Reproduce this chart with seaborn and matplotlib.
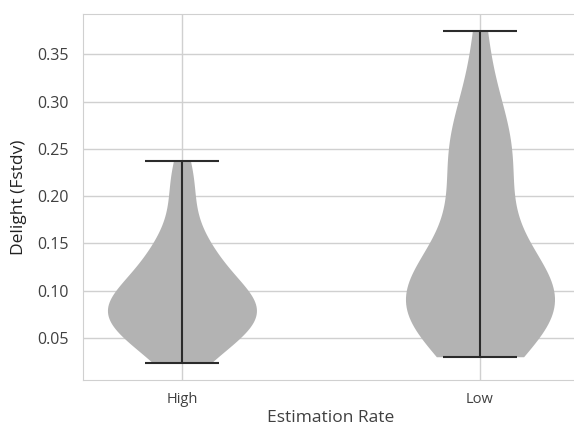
import numpy as np
import pandas as pd
import seaborn as sns
import matplotlib.pyplot as plt

categories = ["High", "Low"]
high_values = [0.023, 0.030, 0.035, 0.040, 0.045, 0.050, 0.055, 0.058, 0.062, 0.065,
               0.068, 0.070, 0.072, 0.075, 0.077, 0.080, 0.082, 0.085, 0.088, 0.090,
               0.093, 0.096, 0.100, 0.104, 0.108, 0.112, 0.118, 0.124, 0.130, 0.137,
               0.144, 0.150, 0.160, 0.180, 0.200, 0.218, 0.237]
low_values = [0.030, 0.038, 0.045, 0.051, 0.057, 0.063, 0.069, 0.074, 0.079, 0.084,
              0.088, 0.092, 0.096, 0.100, 0.104, 0.108, 0.112, 0.117, 0.123, 0.130,
              0.140, 0.160, 0.180, 0.197, 0.213, 0.228, 0.241, 0.252, 0.262, 0.273,
              0.290, 0.320, 0.375]

df = pd.DataFrame({
    "rate": ["High"] * len(high_values) + ["Low"] * len(low_values),
    "delight": high_values + low_values,
})

sns.set_style("whitegrid")
plt.rcParams["font.family"] = ["Open Sans", "DejaVu Sans"]

fig = plt.figure(figsize=(5.74, 4.30), dpi=100)
ax = fig.add_axes([0.1446, 0.1163, 0.864, 0.851])

sns.violinplot(data=df, x="rate", y="delight", order=categories, cut=0, inner=None,
               width=0.5, density_norm="width", color="#b3b3b3", saturation=1,
               linewidth=0, ax=ax)

# extrema bars like matplotlib's violinplot
for i, vals in enumerate([high_values, low_values]):
    lo, hi = min(vals), max(vals)
    ax.vlines(i, lo, hi, color="#2b2b2b", lw=1.5, zorder=3)
    ax.hlines([lo, hi], i - 0.125, i + 0.125, color="#2b2b2b", lw=1.5, zorder=3)

ax.set_xlim(-0.332, 1.332)
ax.set_ylim(0.0054, 0.3926)
ax.set_yticks([0.05, 0.10, 0.15, 0.20, 0.25, 0.30, 0.35])
ax.set_yticklabels(["0.05", "0.10", "0.15", "0.20", "0.25", "0.30", "0.35"])
ax.grid(True, color="#d0d0d0", lw=1)
for s in ax.spines.values():
    s.set_color("#d0d0d0")
ax.tick_params(axis="y", colors="#404040", labelsize=11.5, length=0, pad=10)
ax.tick_params(axis="x", colors="#404040", labelsize=10.5, length=0, pad=9)
ax.set_xlabel("Estimation Rate", fontsize=12.5, color="#404040", labelpad=2)
ax.set_ylabel("Delight (Fstdv)", fontsize=12.5, color="#222222", labelpad=8)

plt.savefig("out.png", dpi=100)
